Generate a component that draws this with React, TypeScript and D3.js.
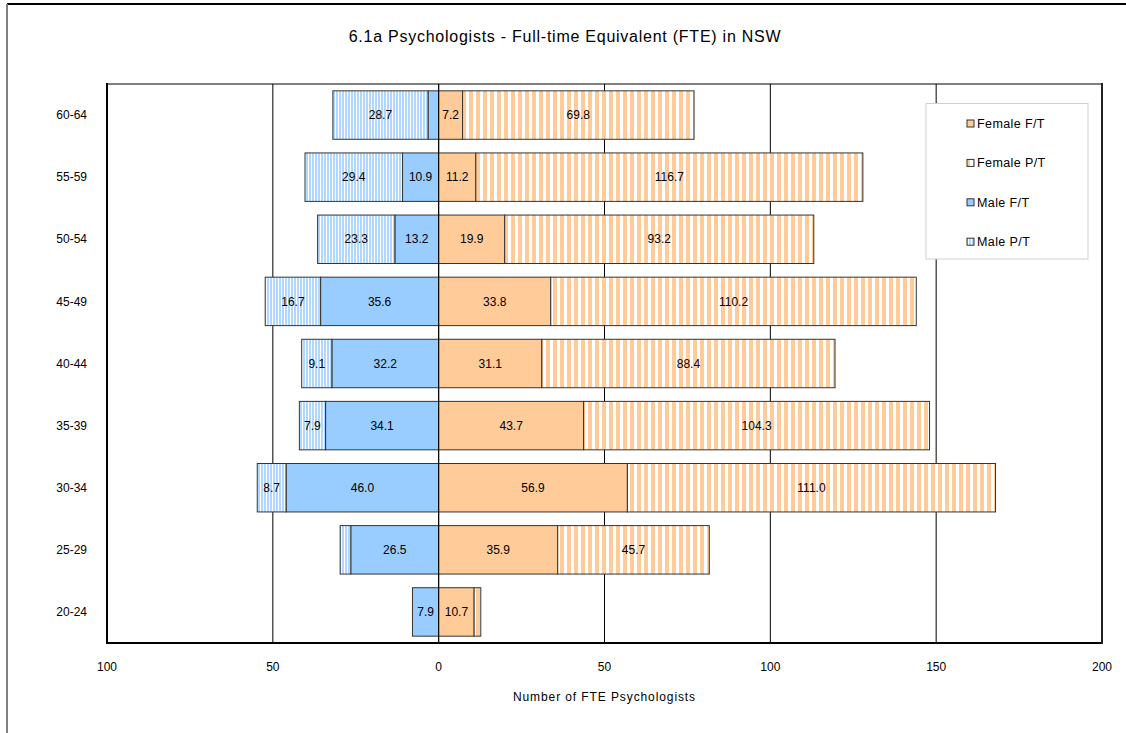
import React from "react";
import * as d3 from "d3";

const ageGroups = ["60-64", "55-59", "50-54", "45-49", "40-44", "35-39", "30-34", "25-29", "20-24"];
const femaleFT = [7.2, 11.2, 19.9, 33.8, 31.1, 43.7, 56.9, 35.9, 10.7];
const femalePT = [69.8, 116.7, 93.2, 110.2, 88.4, 104.3, 111.0, 45.7, 2.0];
const maleFT = [3.2, 10.9, 13.2, 35.6, 32.2, 34.1, 46.0, 26.5, 7.9];
const malePT = [28.7, 29.4, 23.3, 16.7, 9.1, 7.9, 8.7, 3.2, 0];
const xTicks = [-100, -50, 0, 50, 100, 150, 200];
const gridValues = [-50, 0, 50, 100, 150];
const legendItems = ["Female F/T", "Female P/T", "Male F/T", "Male P/T"];
const labelMin = 5;

const W = 1126;
const H = 733;
const plot = { left: 107, right: 1102, top: 84, bottom: 643 };
const FONT = "'Liberation Sans', Arial, sans-serif";

const fills: Record<string, string> = {
  "Female F/T": "#FFCC99",
  "Female P/T": "url(#fpt)",
  "Male F/T": "#99CCFF",
  "Male P/T": "url(#mpt)",
};

export default function App() {
  const x = d3.scaleLinear().domain([-100, 200]).range([plot.left, plot.right]);
  const y = d3
    .scaleBand<string>()
    .domain(ageGroups)
    .range([plot.top, plot.bottom])
    .paddingInner(0.22)
    .paddingOuter(0.11);

  type Seg = { key: string; cat: string; x0: number; x1: number; v: number; s: string };
  const segs: Seg[] = [];
  ageGroups.forEach((cat, i) => {
    segs.push({ key: "mft" + i, cat, x0: -maleFT[i], x1: 0, v: maleFT[i], s: "Male F/T" });
    segs.push({ key: "mpt" + i, cat, x0: -maleFT[i] - malePT[i], x1: -maleFT[i], v: malePT[i], s: "Male P/T" });
    segs.push({ key: "fft" + i, cat, x0: 0, x1: femaleFT[i], v: femaleFT[i], s: "Female F/T" });
    segs.push({ key: "fpt" + i, cat, x0: femaleFT[i], x1: femaleFT[i] + femalePT[i], v: femalePT[i], s: "Female P/T" });
  });

  const bh = y.bandwidth();

  return (
    <svg width={W} height={H} style={{ position: "absolute", left: 0, top: 0, background: "#fff" }}>
      <defs>
        <pattern id="fpt" width={7} height={10} patternUnits="userSpaceOnUse">
          <rect x={0} y={0} width={7} height={10} fill="#ffffff" />
          <rect x={0} y={0} width={4} height={10} fill="#FFCC99" />
        </pattern>
        <pattern id="mpt" width={3} height={10} patternUnits="userSpaceOnUse">
          <rect x={0} y={0} width={3} height={10} fill="#ffffff" />
          <rect x={0} y={0} width={2} height={10} fill="#B0D8FF" />
        </pattern>
      </defs>
      <rect x={0} y={0} width={W} height={H} fill="#fff" />
      {/* outer frame */}
      <line x1={7} y1={4} x2={W} y2={4} stroke="#000" strokeWidth={2} />
      <line x1={7} y1={4} x2={7} y2={H} stroke="#808080" strokeWidth={2} />

      <text x={565} y={42} textAnchor="middle" fontFamily={FONT} fontSize={16} letterSpacing={0.75} fill="#000">
        6.1a Psychologists - Full-time Equivalent (FTE) in NSW
      </text>

      {/* plot area */}
      <rect x={plot.left} y={plot.top} width={plot.right - plot.left} height={plot.bottom - plot.top} fill="#fff" stroke="#808080" strokeWidth={2} />
      {gridValues.map((g) => (
        <line key={g} x1={x(g)} x2={x(g)} y1={plot.top} y2={plot.bottom} stroke="#000" strokeWidth={1} />
      ))}

      {segs.filter((s) => s.v > 0).map((s) => (
        <rect
          key={s.key}
          x={x(s.x0)}
          y={y(s.cat)!}
          width={x(s.x1) - x(s.x0)}
          height={bh}
          fill={fills[s.s]}
          stroke="#333"
          strokeWidth={1}
        />
      ))}
      {segs.filter((s) => s.v >= labelMin).map((s) => (
        <text
          key={"t" + s.key}
          x={(x(s.x0) + x(s.x1)) / 2}
          y={y(s.cat)! + bh / 2}
          dy="0.35em"
          textAnchor="middle"
          fontFamily={FONT}
          fontSize={12}
          fill="#000"
        >
          {s.v.toFixed(1)}
        </text>
      ))}
      {/* zero line on top */}
      <line x1={x(0)} x2={x(0)} y1={plot.top} y2={plot.bottom} stroke="#000" strokeWidth={1} />
      {/* axes lines */}
      <line x1={plot.left} x2={plot.left} y1={plot.top - 1} y2={plot.bottom + 1} stroke="#000" strokeWidth={2} />
      <line x1={plot.left - 1} x2={plot.right + 1} y1={plot.bottom} y2={plot.bottom} stroke="#000" strokeWidth={2} />
      <line x1={plot.right} x2={plot.right} y1={plot.top - 1} y2={plot.bottom + 1} stroke="#222" strokeWidth={2} />

      {ageGroups.map((c) => (
        <text key={c} x={87} y={y(c)! + bh / 2} dy="0.35em" textAnchor="end" fontFamily={FONT} fontSize={12} fill="#000">
          {c}
        </text>
      ))}
      {xTicks.map((t) => (
        <text key={t} x={x(t)} y={671} textAnchor="middle" fontFamily={FONT} fontSize={12} fill="#000">
          {Math.abs(t)}
        </text>
      ))}
      <text x={x(50)} y={701} textAnchor="middle" fontFamily={FONT} fontSize={12} letterSpacing={0.9} fill="#000">
        Number of FTE Psychologists
      </text>

      {/* legend */}
      <rect x={926} y={103.5} width={162} height={155.5} fill="#fff" stroke="#d0d0d0" strokeWidth={1} />
      {legendItems.map((item, i) => {
        const cy = 123.5 + i * 39.4;
        return (
          <g key={item}>
            <rect x={967} y={cy - 3.5} width={7} height={7} fill={fills[item]} stroke="#333" strokeWidth={1} />
            <text x={977} y={cy} dy="0.35em" fontFamily={FONT} fontSize={12.5} letterSpacing={0.4} fill="#000">
              {item}
            </text>
          </g>
        );
      })}
    </svg>
  );
}
